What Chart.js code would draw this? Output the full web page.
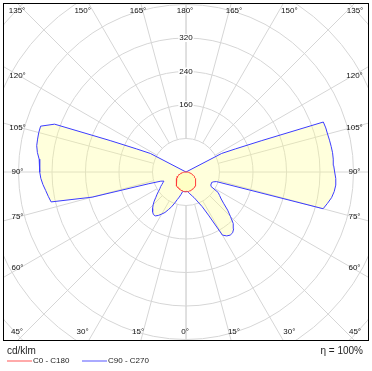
<!DOCTYPE html>
<html>
<head>
<meta charset="utf-8">
<script src="https://cdn.jsdelivr.net/npm/chart.js@4.4.1/dist/chart.umd.min.js"></script>
<style>
  body { margin: 0; background: #fff; }
  canvas { display: block; }
</style>
</head>
<body>
<canvas id="polarChart" width="372" height="371"></canvas>
<script>
// gamma angles (degrees from nadir)
const gammas = [0, 2.5, 5, 7.5, 10, 12.5, 15, 17.5, 20, 22.5, 25, 27.5,
  30, 32.5, 35, 37.5, 40, 42.5, 45, 47.5, 50, 52.5, 55, 57.5,
  60, 62.5, 65, 67.5, 70, 72.5, 75, 77.5, 80, 82.5, 85, 87.5,
  90, 92.5, 95, 97.5, 100, 102.5, 105, 107.5, 110, 112.5, 115, 117.5,
  120, 122.5, 125, 127.5, 130, 132.5, 135, 137.5, 140, 142.5, 145, 147.5,
  150, 152.5, 155, 157.5, 160, 162.5, 165, 167.5, 170, 172.5, 175, 177.5, 180];

// cd/klm
const c0c180 = [47, 47, 47, 47, 46, 46, 45, 45, 44, 43, 43, 42,
  41, 40, 38, 37, 36, 35, 33, 32, 30, 29, 27, 25,
  24, 22, 20, 18, 16, 14, 12, 10, 8, 6, 4, 2,
  0, 0, 0, 0, 0, 0, 0, 0, 0, 0, 0, 0,
  0, 0, 0, 0, 0, 0, 0, 0, 0, 0, 0, 0,
  0, 0, 0, 0, 0, 0, 0, 0, 0, 0, 0, 0, 0];
const c90 = [47, 46, 47, 50, 53, 56, 60, 64, 71, 80, 91, 116,
  174, 181, 184, 183, 177, 167, 150, 135, 118, 106, 98, 91,
  69, 67, 66, 66, 69, 76, 339, 346, 353, 357, 359, 358,
  355, 353, 353, 353, 352, 351, 350, 350, 349, 196, 131, 96,
  0, 0, 0, 0, 0, 0, 0, 0, 0, 0, 0, 0,
  0, 0, 0, 0, 0, 0, 0, 0, 0, 0, 0, 0, 0];
const c270 = [47, 47, 47, 47, 48, 55, 62, 69, 79, 90, 99, 109,
  116, 123, 128, 128, 124, 118, 111, 103, 94, 87, 80, 74,
  70, 65, 61, 57, 64, 93, 232, 330, 334, 338, 343, 347,
  349, 350, 352, 358, 362, 363, 364, 364, 334, 196, 131, 96,
  0, 0, 0, 0, 0, 0, 0, 0, 0, 0, 0, 0,
  0, 0, 0, 0, 0, 0, 0, 0, 0, 0, 0, 0, 0];

const ringTicks = [80, 160, 240, 320, 400, 480, 560];
const ringLabels = [160, 240, 320];
const angleTicks = [0, 15, 30, 45, 60, 75, 90, 105, 120, 135, 150, 165, 180];
const seriesNames = ['C0 - C180', 'C90 - C270'];
const unitLabel = 'cd/klm';
const efficiencyLabel = '\u03B7 = 100%';

const FONT = '"Liberation Sans", Arial, sans-serif';

// left half goes from 180 down to 0, right half from 0 up to 180
function toPoints(left, right) {
  const pts = [];
  for (let i = gammas.length - 1; i >= 0; i--) {
    const g = gammas[i] * Math.PI / 180;
    pts.push({ x: -left[i] * Math.sin(g), y: -left[i] * Math.cos(g) });
  }
  for (let i = 0; i < gammas.length; i++) {
    const g = gammas[i] * Math.PI / 180;
    pts.push({ x: right[i] * Math.sin(g), y: -right[i] * Math.cos(g) });
  }
  return pts;
}

const polarGrid = {
  id: 'polarGrid',
  beforeDatasetsDraw(chart) {
    const { ctx, chartArea: a, scales: { x, y } } = chart;
    const cx = x.getPixelForValue(0), cy = y.getPixelForValue(0);
    const k = x.getPixelForValue(1) - cx;
    ctx.save();
    ctx.beginPath();
    ctx.rect(a.left, a.top, a.right - a.left, a.bottom - a.top);
    ctx.clip();
    ctx.strokeStyle = '#d6d6d6';
    ctx.lineWidth = 1;
    ringTicks.forEach(v => {
      ctx.beginPath();
      ctx.arc(cx, cy, v * k, 0, Math.PI * 2);
      ctx.stroke();
    });
    const r0 = ringTicks[0] * k;
    angleTicks.forEach(deg => {
      const g = deg * Math.PI / 180;
      [-1, 1].forEach(s => {
        const dx = s * Math.sin(g), dy = Math.cos(g);
        ctx.beginPath();
        ctx.moveTo(cx + dx * r0, cy + dy * r0);
        ctx.lineTo(cx + dx * 600, cy + dy * 600);
        ctx.stroke();
      });
    });

    // angle labels near the frame
    ctx.fillStyle = '#111';
    ctx.font = '8px ' + FONT;
    ctx.textAlign = 'center';
    ctx.textBaseline = 'middle';
    angleTicks.forEach(deg => {
      const sides = (deg === 0 || deg === 180) ? [1] : [-1, 1];
      sides.forEach(s => {
        let lx, ly;
        if (deg <= 45 || deg >= 135) {
          const down = deg <= 45;
          const t = Math.tan((down ? deg : 180 - deg) * Math.PI / 180);
          lx = cx + s * Math.min(179 * t, 169) - (deg === 0 || deg === 180 ? 1 : 0);
          ly = down ? cy + 160 : cy - 161;
        } else {
          lx = cx + s * 168.5;
          ly = cy + 166 / Math.tan(deg * Math.PI / 180);
        }
        ctx.fillText(deg + '\u00B0', lx, ly);
      });
    });

    // ring value labels
    ringLabels.forEach(v => {
      const ly = cy - v * k;
      const txt = String(v);
      const w = ctx.measureText(txt).width;
      ctx.fillStyle = '#fff';
      ctx.fillRect(cx - w / 2 - 1, ly - 4, w + 2, 8);
      ctx.fillStyle = '#111';
      ctx.fillText(txt, cx, ly);
    });
    ctx.restore();
  },
  afterDraw(chart) {
    const { ctx, chartArea: a } = chart;
    ctx.save();
    ctx.strokeStyle = '#000';
    ctx.lineWidth = 1;
    ctx.strokeRect(a.left + 0.5, a.top + 0.5, a.right - a.left - 1, a.bottom - a.top - 1);

    ctx.fillStyle = '#222';
    ctx.textBaseline = 'middle';
    ctx.font = '10px ' + FONT;
    ctx.textAlign = 'left';
    ctx.fillText(unitLabel, 7, 351);
    ctx.textAlign = 'right';
    ctx.fillText(efficiencyLabel, 363, 351);

    const legendCols = ['#ffaaaa', '#aaaaff'];
    const legendX = [7, 82];
    ctx.font = '8px ' + FONT;
    ctx.textAlign = 'left';
    seriesNames.forEach((name, i) => {
      ctx.strokeStyle = legendCols[i];
      ctx.lineWidth = 2;
      ctx.beginPath();
      ctx.moveTo(legendX[i], 361);
      ctx.lineTo(legendX[i] + 25, 361);
      ctx.stroke();
      ctx.fillStyle = '#222';
      ctx.fillText(name, legendX[i] + 26, 361);
    });
    ctx.restore();
  }
};

new Chart(document.getElementById('polarChart'), {
  type: 'scatter',
  data: {
    datasets: [{
      label: seriesNames[0],
      data: toPoints(c0c180, c0c180),
      showLine: true,
      borderColor: '#ff3a3a',
      backgroundColor: 'rgba(255, 255, 140, 0.3)',
      borderWidth: 1,
      pointRadius: 0,
      tension: 0,
      fill: 'shape'
    }, {
      label: seriesNames[1],
      data: toPoints(c270, c90),
      showLine: true,
      borderColor: '#3c3cff',
      backgroundColor: 'rgba(255, 255, 140, 0.3)',
      borderWidth: 1,
      pointRadius: 0,
      tension: 0,
      fill: 'shape'
    }]
  },
  options: {
    responsive: false,
    devicePixelRatio: 1,
    animation: false,
    layout: { padding: { left: 3, right: 3, top: 3, bottom: 30 } },
    scales: {
      x: { type: 'linear', display: false, min: -437, max: 437 },
      y: { type: 'linear', display: false, min: -403.6, max: 403.6 }
    },
    plugins: {
      legend: { display: false },
      tooltip: { enabled: false }
    }
  },
  plugins: [polarGrid]
});
</script>
</body>
</html>
